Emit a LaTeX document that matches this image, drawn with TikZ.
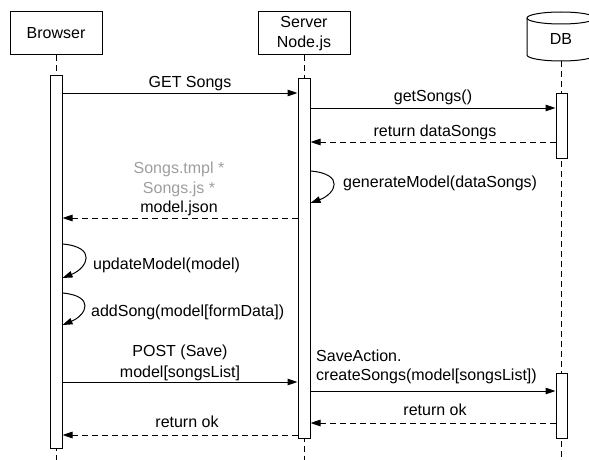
\documentclass[tikz,border=0pt]{standalone}
\usepackage{fontspec}
\setmainfont{Liberation Sans}
\usetikzlibrary{arrows.meta}

\begin{document}
\begin{tikzpicture}[x=1pt, y=-1pt,
  font=\fontsize{16}{19.5}\selectfont,
  actor/.style={draw, line width=1pt, minimum width=92pt, minimum height=43pt,
    inner sep=0pt, align=center},
  bar/.style={draw, fill=white, line width=1pt, minimum width=12pt, inner sep=0pt},
  life/.style={line width=1pt, dash pattern=on 6pt off 4pt},
  msg/.style={line width=1pt, -{Triangle[length=10pt,width=6.5pt]}},
  reply/.style={msg, dash pattern=on 6pt off 4pt},
  lbl/.style={anchor=base, inner sep=0pt},
  lblw/.style={anchor=base west, inner sep=0pt},
  note/.style={lbl, text=black!38}
]
\useasboundingbox (0,0) rectangle (589,460);
\clip (0,0) rectangle (589,460);

% participants
\node[actor] (browser) at (56,33) {Browser};
\node[actor] (server) at (304,33.5) {Server\\Node.js};

% database cylinder
\coordinate (dbfoot) at (561.5,61);
\filldraw[fill=white, line width=1pt] (527,18) -- (527,55)
  arc[start angle=180, end angle=0, x radius=34, y radius=6] -- (595,18);
\draw[line width=1pt] (561,18) ellipse [x radius=34, y radius=6];
\node[inner sep=0pt] (db) at (561,39) {DB};

% lifelines
\draw[life] (browser.south) -- (56,460);
\draw[life] (server.south) -- (304,460);
\draw[life] (dbfoot) -- (561.5,460);

% activation bars
\node[bar, minimum height=372pt] (bB) at (56,262) {};
\node[bar, minimum height=359pt] (bS) at (304,258.5) {};
\node[bar, minimum height=65pt, minimum width=11pt] (bD1) at (561.5,125.5) {};
\node[bar, minimum height=65pt, minimum width=11pt] (bD2) at (561.5,405.5) {};

% GET Songs
\draw[msg] (bB.east |- 0,93) -- (bS.west |- 0,93);
\node[lbl] (lget) at (190,88) {GET Songs};

% getSongs()
\draw[msg] (bS.east |- 0,108) -- (bD1.west |- 0,108);
\node[lbl] (lgs) at (433,101) {getSongs()};

% return dataSongs
\draw[reply] (bD1.west |- 0,142) -- (bS.east |- 0,142);
\node[lbl] (lrds) at (435,136.5) {return dataSongs};

% generateModel self call
\draw[msg] (bS.east |- 0,171) .. controls +(35,3) and +(25,-9) .. (bS.east |- 0,203);
\node[lblw] (lgen) at (343,187.5) {generateModel(dataSongs)};

% model.json response
\draw[reply] (bS.west |- 0,218) -- (bB.east |- 0,218);
\node[note] (ltmpl) at (179,173) {Songs.tmpl *};
\node[note] (ljs) at (179,193.5) {Songs.js *};
\node[lbl] (ljson) at (179,212) {model.json};

% updateModel self call
\draw[msg] (bB.east |- 0,244) .. controls +(35,3) and +(25,-10) .. (bB.east |- 0,278);
\node[lblw] (lupd) at (93,269.5) {updateModel(model)};

% addSong self call
\draw[msg] (bB.east |- 0,293) .. controls +(33,3) and +(24,-10) .. (bB.east |- 0,325);
\node[lblw] (ladd) at (91,316) {addSong(model[formData])};

% POST (Save)
\draw[msg] (bB.east |- 0,382) -- (bS.west |- 0,382);
\node[lbl] (lpost) at (180,356.5) {POST (Save)};
\node[lbl] (lpost2) at (180,377) {model[songsList]};

% createSongs
\draw[msg] (bS.east |- 0,391) -- (bD2.west |- 0,391);
\node[lblw] (lsave) at (316,361) {SaveAction.};
\node[lblw] (lcreate) at (316,380.5) {createSongs(model[songsList])};

% return ok from DB
\draw[reply] (bD2.west |- 0,423) -- (bS.east |- 0,423);
\node[lbl] (lok1) at (435,415.5) {return ok};

% return ok to browser
\draw[reply] (bS.west |- 0,435) -- (bB.east |- 0,435);
\node[lbl] (lok2) at (187,427.5) {return ok};
\end{tikzpicture}
\end{document}
